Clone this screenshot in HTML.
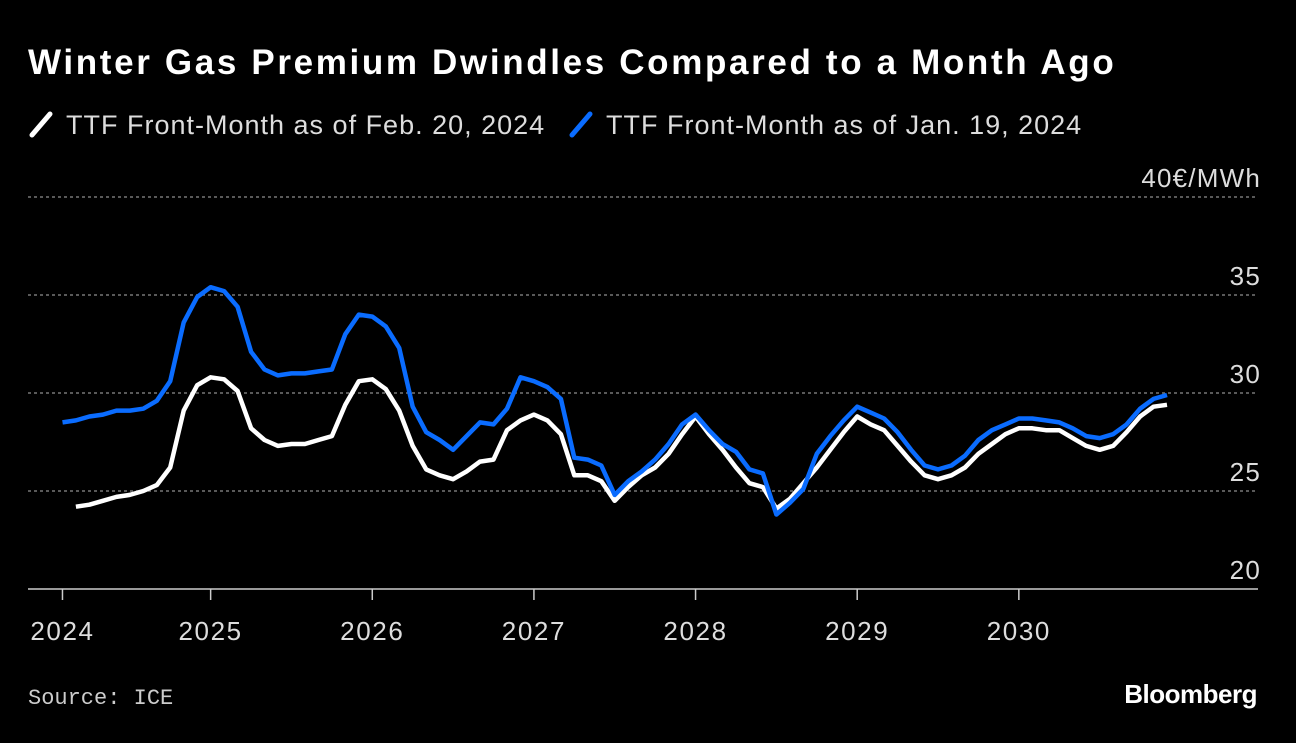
<!DOCTYPE html>
<html><head><meta charset="utf-8">
<style>
html,body{margin:0;padding:0;background:#000;}
body{width:1296px;height:738px;overflow:hidden;font-family:"Liberation Sans",sans-serif;color:#fff;}
</style></head>
<body>
<svg id="chart" width="1296" height="738" xmlns="http://www.w3.org/2000/svg">
<text x="28" y="74" font-size="35" font-weight="bold" fill="#fff" letter-spacing="2.65" font-family="Liberation Sans, sans-serif">Winter Gas Premium Dwindles Compared to a Month Ago</text>
<g>
<g>
<line x1="32" y1="135" x2="50" y2="114" stroke="#fff" stroke-width="5" stroke-linecap="round"/>
<text x="66" y="134" font-size="27" letter-spacing="1" fill="#ddd">TTF Front-Month as of Feb. 20, 2024</text></g>
<g>
<line x1="572" y1="135" x2="590" y2="114" stroke="#0a6cff" stroke-width="5" stroke-linecap="round"/>
<text x="606" y="134" font-size="27" letter-spacing="1" fill="#ddd">TTF Front-Month as of Jan. 19, 2024</text></g>
</g>
<g id="grid"></g><g id="xaxis"></g><g id="series"></g>
<text x="28" y="704" font-size="22" fill="#ccc" font-family="Liberation Mono, monospace">Source: ICE</text>
<text x="1257" y="703" font-size="26" font-weight="bold" fill="#fff" text-anchor="end" letter-spacing="-0.5">Bloomberg</text>
</svg>
<script>
const yTicks=[20,25,30,35,40];
const xTickLabels=["2024","2025","2026","2027","2028","2029","2030"];
const xTickMonths=[1,12,24,36,48,60,72];
const janStart=1;
const janValues=[28.5,28.6,28.8,28.9,29.1,29.1,29.2,29.6,30.6,33.6,34.9,35.4,35.2,34.4,32.1,31.2,30.9,31.0,31.0,31.1,31.2,33.0,34.0,33.9,33.4,32.3,29.3,28.0,27.6,27.1,27.8,28.5,28.4,29.2,30.8,30.6,30.3,29.7,26.7,26.6,26.3,24.8,25.5,26.0,26.6,27.4,28.4,28.9,28.1,27.4,27.0,26.1,25.9,23.8,24.4,25.1,26.9,27.8,28.6,29.3,29.0,28.7,28.0,27.1,26.3,26.1,26.3,26.8,27.6,28.1,28.4,28.7,28.7,28.6,28.5,28.2,27.8,27.7,27.9,28.4,29.2,29.7,29.9];
const febStart=2;
const febValues=[24.2,24.3,24.5,24.7,24.8,25.0,25.3,26.2,29.1,30.4,30.8,30.7,30.1,28.2,27.6,27.3,27.4,27.4,27.6,27.8,29.4,30.6,30.7,30.2,29.1,27.3,26.1,25.8,25.6,26.0,26.5,26.6,28.1,28.6,28.9,28.6,27.9,25.8,25.8,25.5,24.5,25.2,25.8,26.2,26.9,27.9,28.8,27.9,27.1,26.2,25.4,25.2,24.1,24.6,25.4,26.2,27.1,28.0,28.8,28.4,28.1,27.3,26.5,25.8,25.6,25.8,26.2,26.9,27.4,27.9,28.2,28.2,28.1,28.1,27.7,27.3,27.1,27.3,28.0,28.8,29.3,29.4];
const NS="http://www.w3.org/2000/svg";
const x=m=>49+m*13.47;
const y=v=>589-(v-20)*19.6;
function mk(t,a,p){const e=document.createElementNS(NS,t);for(const k in a)e.setAttribute(k,a[k]);p.appendChild(e);return e;}
const grid=document.getElementById('grid');
yTicks.forEach(v=>{
  if(v>20){const l=mk('line',{x1:28,x2:1258,y1:y(v),y2:y(v),stroke:'#777','stroke-width':1.5,'stroke-dasharray':'3,3'},grid);
  
  }
  const t=mk('text',{x:1261,y:y(v)-10,'font-size':26,'letter-spacing':1.2,fill:'#ddd','text-anchor':'end'},grid);
  t.textContent=v===40?'40€/MWh':String(v);
  
  
});
const xa=document.getElementById('xaxis');
const ax=mk('line',{x1:28,x2:1258,y1:589,y2:589,stroke:'#ccc','stroke-width':1.5},xa);


xTickLabels.forEach((lab,i)=>{
  const px=x(xTickMonths[i]);
  const tk=mk('line',{x1:px,x2:px,y1:589,y2:600,stroke:'#ccc','stroke-width':1.5},xa);
  
  
  const t=mk('text',{x:px,y:640,'font-size':26,'letter-spacing':1.6,fill:'#ddd','text-anchor':'middle'},xa);
  t.textContent=lab;
  
  
});
const sg=document.getElementById('series');
function line(vals,start,color,name){
  const d=vals.map((v,i)=>(i?'L':'M')+x(start+i).toFixed(1)+','+y(v).toFixed(1)).join('');
  const p=mk('path',{d:d,fill:'none',stroke:color,'stroke-width':4.5,'stroke-linejoin':'round'},sg);
  
  
}
line(febValues,febStart,'#ffffff','series-feb-20');
line(janValues,janStart,'#0a6cff','series-jan-19');
</script>
</body></html>
